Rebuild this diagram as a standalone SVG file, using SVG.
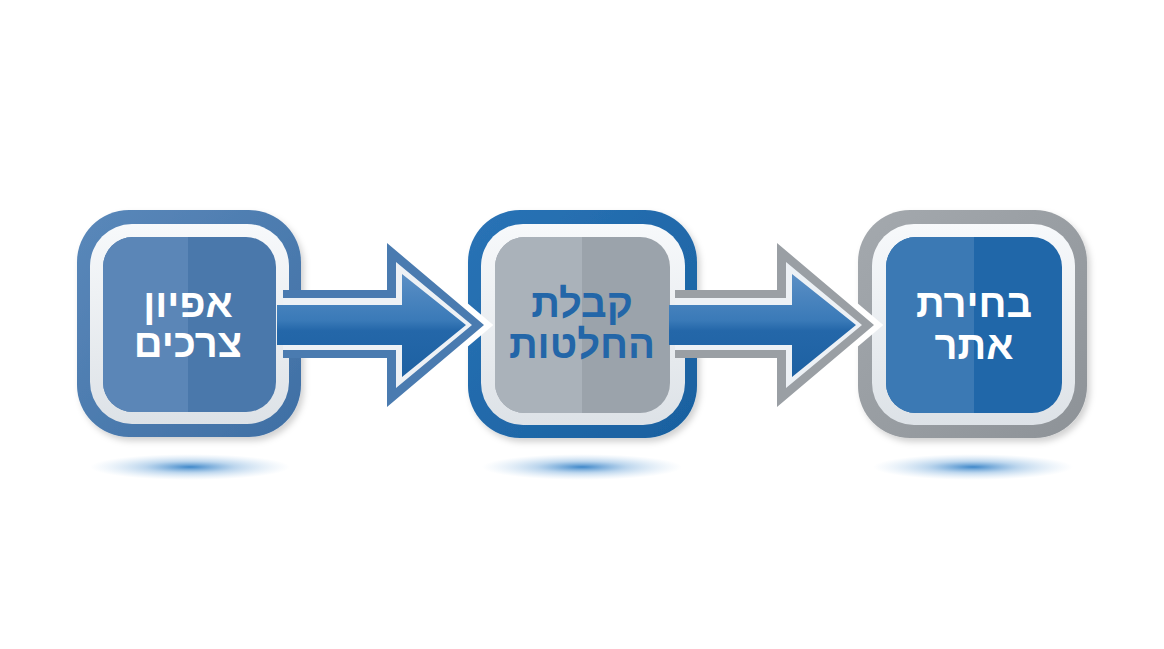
<svg xmlns="http://www.w3.org/2000/svg" width="1164" height="649" viewBox="0 0 1164 649">
<defs>
<style>
.t{font-family:"Liberation Sans","DejaVu Sans",sans-serif;font-size:40px;font-weight:bold;text-anchor:middle}
.w{fill:#ffffff}
.b{fill:#2366a8}
.halo{fill:none;stroke:#ffffff;stroke-width:12;stroke-linejoin:miter}
</style>
<linearGradient id="ring" x1="0" y1="0" x2="0" y2="1">
<stop offset="0" stop-color="#f7f9fb"/><stop offset="1" stop-color="#dde2e7"/>
</linearGradient>
<linearGradient id="o1" x1="0" y1="0" x2="1" y2="1">
<stop offset="0" stop-color="#5a88ba"/><stop offset="1" stop-color="#3f6fa4"/>
</linearGradient>
<linearGradient id="o2" x1="0" y1="0" x2="1" y2="1">
<stop offset="0" stop-color="#2a73b6"/><stop offset="1" stop-color="#18609f"/>
</linearGradient>
<linearGradient id="o3" x1="0" y1="0" x2="1" y2="1">
<stop offset="0" stop-color="#a4a9ae"/><stop offset="1" stop-color="#8d9297"/>
</linearGradient>
<linearGradient id="af" x1="0" y1="0" x2="0" y2="1">
<stop offset="0" stop-color="#5b8fc5"/><stop offset="0.45" stop-color="#3a7ab8"/><stop offset="0.55" stop-color="#2467a9"/><stop offset="1" stop-color="#1d61a2"/>
</linearGradient>
<radialGradient id="sh">
<stop offset="0" stop-color="#2a7bc4" stop-opacity="0.9"/><stop offset="0.45" stop-color="#5a9ad4" stop-opacity="0.4"/><stop offset="1" stop-color="#9cc3e6" stop-opacity="0"/>
</radialGradient>
<filter id="ds" x="-10%" y="-10%" width="125%" height="125%">
<feDropShadow dx="3" dy="4" stdDeviation="3" flood-color="#000" flood-opacity="0.18"/>
</filter>
</defs>
<rect width="1164" height="649" fill="#ffffff"/>

<g id="shadows">
<ellipse cx="190" cy="467" rx="100" ry="13" fill="url(#sh)"/>
<ellipse cx="582" cy="467" rx="100" ry="13" fill="url(#sh)"/>
<ellipse cx="973" cy="467" rx="100" ry="13" fill="url(#sh)"/>
</g>

<g id="node1">
<rect x="77" y="210" width="224" height="227" rx="52" fill="url(#o1)" filter="url(#ds)"/>
<rect x="90" y="224" width="199" height="200" rx="42" fill="url(#ring)"/>
<rect x="103" y="237" width="173" height="175" rx="30" fill="#4a78ab"/>
<path d="M133 237 H188 V412 H133 A30 30 0 0 1 103 382 V267 A30 30 0 0 1 133 237 Z" fill="#5b86b7"/>
<text class="t w" x="188" y="317">אפיון</text>
<text class="t w" x="188" y="357">צרכים</text>
</g>

<g id="node2">
<rect x="468" y="210" width="229" height="228" rx="52" fill="url(#o2)" filter="url(#ds)"/>
<rect x="481" y="224" width="204" height="201" rx="42" fill="url(#ring)"/>
<rect x="495" y="237" width="175" height="176" rx="30" fill="#9ba3ab"/>
<path d="M525 237 H582 V413 H525 A30 30 0 0 1 495 383 V267 A30 30 0 0 1 525 237 Z" fill="#aab2ba"/>
<text class="t b" x="582" y="317">קבלת</text>
<text class="t b" x="582" y="358">החלטות</text>
</g>

<g id="node3">
<rect x="858" y="210" width="229" height="228" rx="52" fill="url(#o3)" filter="url(#ds)"/>
<rect x="872" y="224" width="203" height="201" rx="42" fill="url(#ring)"/>
<rect x="886" y="237" width="176" height="176" rx="30" fill="#2067a9"/>
<path d="M916 237 H974 V413 H916 A30 30 0 0 1 886 383 V267 A30 30 0 0 1 916 237 Z" fill="#3b79b4"/>
<text class="t w" x="974" y="317">בחירת</text>
<text class="t w" x="974" y="359">אתר</text>
</g>

<g id="connectors">
<g id="arrow1">
<polyline class="halo" points="387,290 387,243 484,325 387,407 387,358"/>
<polygon points="283,290 387,290 387,243 484,325 387,407 387,358 283,358" fill="#4a7bb0"/>
<polygon points="283,298 396,298 396,262 472,325 396,388 396,350 283,350" fill="#edf1f5"/>
<polygon points="277,305 402,305 402,274 466,325 402,377 402,345 277,345" fill="url(#af)"/>
</g>
<g id="arrow2">
<polyline class="halo" points="777,290 777,243 874,325 777,407 777,358"/>
<polygon points="675,290 777,290 777,243 874,325 777,407 777,358 675,358" fill="#9a9fa4"/>
<polygon points="675,298 786,298 786,262 862,325 786,388 786,350 675,350" fill="#edf1f5"/>
<polygon points="669,305 792,305 792,274 856,325 792,377 792,345 669,345" fill="url(#af)"/>
</g>
</g>
</svg>
